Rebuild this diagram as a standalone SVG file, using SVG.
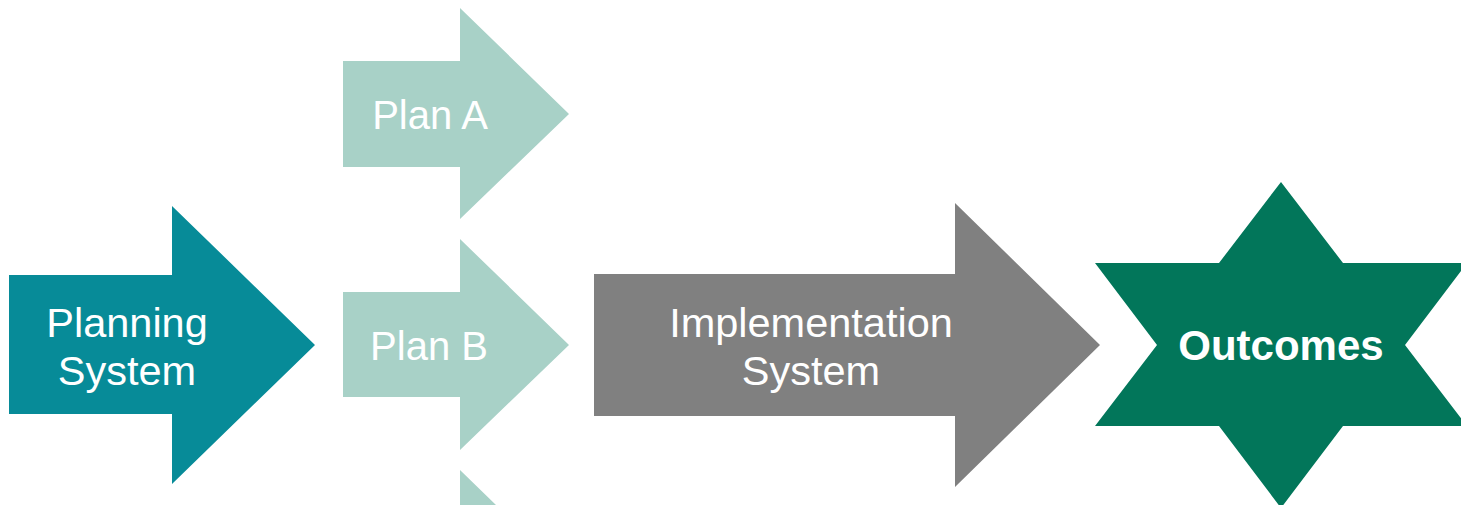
<svg xmlns="http://www.w3.org/2000/svg" width="1461" height="505" viewBox="0 0 1461 505">
<style>
text{font-family:"Liberation Sans",Arial,sans-serif;font-size:41.5px;fill:#ffffff;text-anchor:middle}
.b{font-weight:bold;font-size:42px}
.p{font-size:40px}
.plan{fill:#a8d1c7}
</style>
<rect width="1461" height="505" fill="#ffffff"/>
<g id="planning">
<polygon points="9,275 172,275 172,206 315,345 172,484 172,414 9,414" fill="#078b98"/>
<text x="127" y="337">Planning</text>
<text x="127" y="385">System</text>
</g>
<g id="planA">
<polygon class="plan" points="343,61 460,61 460,8 569,114 460,219 460,167 343,167"/>
<text class="p" x="430" y="129">Plan A</text>
</g>
<g id="planB">
<polygon class="plan" points="343,292 460,292 460,239 569,345 460,450 460,397 343,397"/>
<text class="p" x="429" y="360">Plan B</text>
</g>
<g id="planC">
<polygon class="plan" points="343,523 460,523 460,470 569,576 460,681 460,628 343,628"/>
</g>
<g id="implementation">
<polygon points="594,274 955,274 955,203 1100,345 955,487 955,416 594,416" fill="#808080"/>
<text x="811" y="337">Implementation</text>
<text x="811" y="385">System</text>
</g>
<g id="outcomes">
<polygon points="1281,182 1343,263 1467,263 1405,345 1467,426 1343,426 1281,508 1219,426 1095,426 1157,345 1095,263 1219,263" fill="#02765a"/>
<text class="b" x="1281" y="360">Outcomes</text>
</g>
<g id="connectors"></g>
</svg>
